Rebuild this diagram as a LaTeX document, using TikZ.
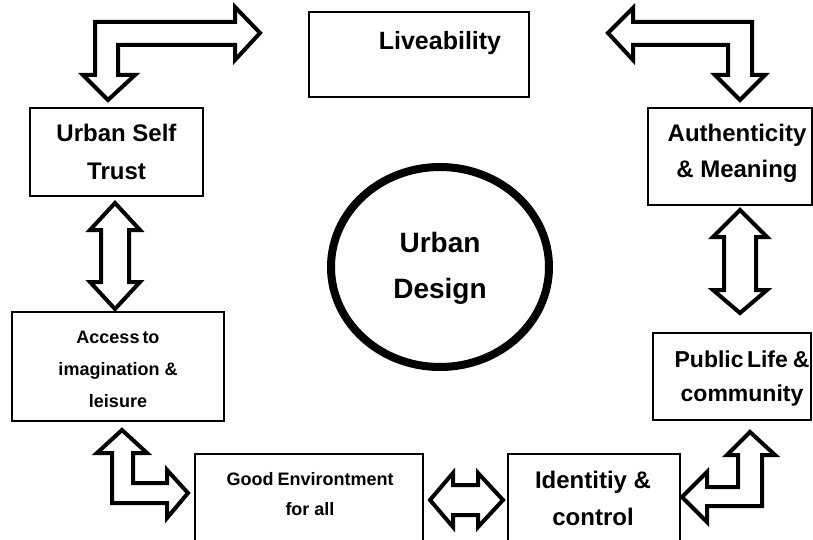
\documentclass[tikz,border=0pt]{standalone}
\usepackage{fontspec}
\setmainfont{Liberation Sans}
\usetikzlibrary{shapes.geometric}
\tikzset{
  box/.style={draw=black, line width=1.4pt, inner sep=0pt},
  lbl/.style={align=center, anchor=base, inner sep=0pt},
  blockarrow/.style={draw=black, line width=4pt, line join=miter, fill=white},
  hub/.style={ellipse, draw=black, line width=8pt, inner sep=0pt}
}
\begin{document}
\begin{tikzpicture}[x=1pt,y=-1pt]
\useasboundingbox (0,0) rectangle (813,540);
\clip (0,0) rectangle (813,540);
\fill[white] (0,0) rectangle (813,540);

% boxes
\node[box, minimum width=220pt, minimum height=85pt] (live) at (419,54.5) {};
\node[box, minimum width=173pt, minimum height=88pt] (ust) at (116.5,152) {};
\node[box, minimum width=212pt, minimum height=109pt] (acc) at (118,366.5) {};
\node[box, minimum width=164pt, minimum height=97pt] (auth) at (730,156.5) {};
\node[box, minimum width=158pt, minimum height=87pt] (pub) at (732,376.5) {};
\node[box, minimum width=228pt, minimum height=91pt] (env) at (309,499.5) {};
\node[box, minimum width=172pt, minimum height=91pt] (ident) at (594,499.5) {};
\node[hub, minimum width=218pt, minimum height=200pt] (ud) at (440,267) {};

% labels (anchor = baseline of the last line)
\node[lbl, font=\bfseries\fontsize{25}{30}\selectfont] (liveT) at (440,50) {Liveability};
\node[lbl, font=\bfseries\fontsize{24}{37}\selectfont] (ustT) at (116.5,179) {Urban Self\\Trust};
\node[lbl, font=\bfseries\fontsize{24}{36}\selectfont] (authT) at (737,178) {Authenticity\\\& Meaning};
\node[lbl, font=\bfseries\fontsize{18}{32}\selectfont] (accT) at (118,407) {Access\kern-2pt\ to\\imagination \&\\leisure};
\node[lbl, font=\bfseries\fontsize{23}{34}\selectfont] (pubT) at (742,401) {Public\kern-3pt\ Life\kern-1.5pt\ \&\\community};
\node[lbl, font=\bfseries\fontsize{18}{30}\selectfont] (envT) at (310,515) {Good\kern-1pt\ Environtment\\for all};
\node[lbl, font=\bfseries\fontsize{24}{37}\selectfont] (idT) at (593,525) {Identitiy \&\\control};
\node[lbl, font=\bfseries\fontsize{28}{46}\selectfont] (udT) at (440,298) {Urban\\Design};

% bent block arrows
\draw[blockarrow] (95,75) -- (95,22) -- (235,22) -- (235,7) -- (260,33) -- (235,60) -- (235,45)
  -- (118,45) -- (118,75) -- (135,75) -- (108,100) -- (83,75) -- cycle;
\draw[blockarrow] (608,33) -- (633,8) -- (633,22) -- (752,22) -- (752,75) -- (765,75) -- (740,100)
  -- (715,75) -- (728,75) -- (728,45) -- (633,45) -- (633,60) -- cycle;
\draw[blockarrow] (122,430) -- (147,453) -- (133,453) -- (133,483) -- (167,483) -- (167,470)
  -- (188,493) -- (167,518) -- (167,503) -- (112,503) -- (112,453) -- (97,453) -- cycle;
\draw[blockarrow] (750,432) -- (775,455) -- (762,455) -- (762,506) -- (707,506) -- (707,522)
  -- (682,497) -- (707,472) -- (707,487) -- (738,487) -- (738,455) -- (727,455) -- cycle;

% straight double arrows
\draw[blockarrow] (115,203) -- (140,230) -- (129,230) -- (129,282) -- (140,282) -- (115,309)
  -- (90,282) -- (101,282) -- (101,230) -- (90,230) -- cycle;
\draw[blockarrow] (740,210) -- (767,237) -- (756,237) -- (756,290) -- (767,290) -- (740,313)
  -- (713,290) -- (724,290) -- (724,237) -- (713,237) -- cycle;
\draw[blockarrow] (430,500) -- (453,473) -- (453,485) -- (478,485) -- (478,473) -- (503,500)
  -- (478,527) -- (478,515) -- (453,515) -- (453,527) -- cycle;
\end{tikzpicture}
\end{document}
